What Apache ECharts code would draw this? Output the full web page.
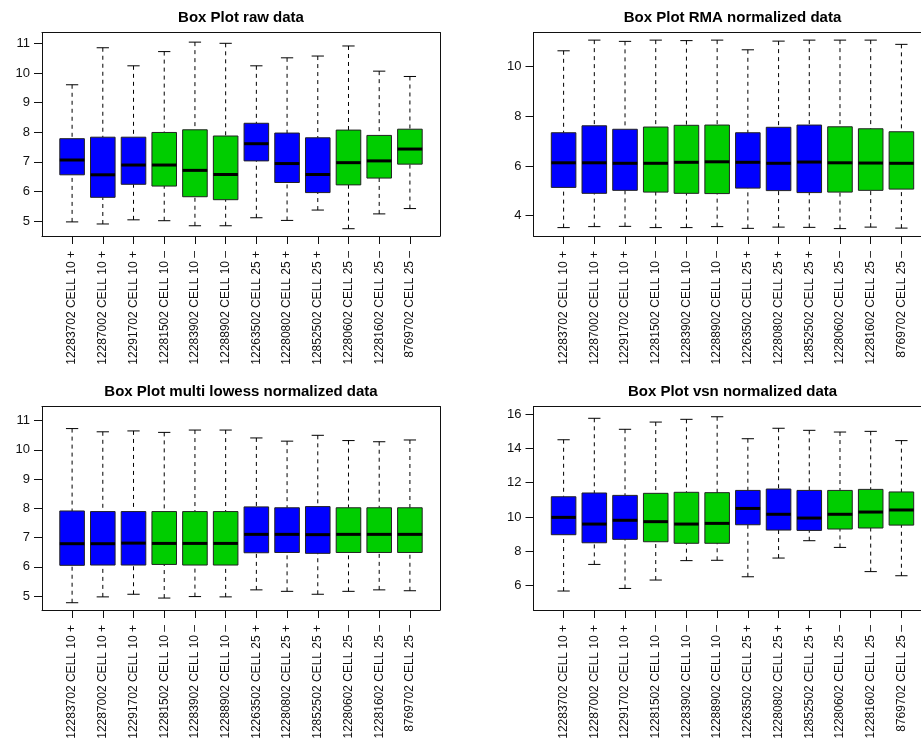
<!DOCTYPE html>
<html>
<head>
<meta charset="utf-8">
<script src="https://cdn.jsdelivr.net/npm/echarts@6/dist/echarts.min.js"></script>
<style>
  html, body { margin: 0; padding: 0; background: #ffffff; }
  #chart { width: 921px; height: 747px; }
</style>
</head>
<body>
<div id="chart"></div>
<script>
// Arrays (samples), in plotting order
const samples = [
  '12283702 CELL 10 +', '12287002 CELL 10 +', '12291702 CELL 10 +',
  '12281502 CELL 10 –', '12283902 CELL 10 –', '12288902 CELL 10 –',
  '12263502 CELL 25 +', '12280802 CELL 25 +', '12852502 CELL 25 +',
  '12280602 CELL 25 –', '12281602 CELL 25 –', '8769702 CELL 25 –'
];

// Five-number summaries per array: [lower whisker, Q1, median, Q3, upper whisker]
const rawStats = [
  [4.97, 6.56, 7.06, 7.78, 9.60],
  [4.90, 5.80, 6.56, 7.83, 10.85],
  [5.04, 6.24, 6.89, 7.83, 10.24],
  [5.01, 6.18, 6.89, 7.99, 10.72],
  [4.84, 5.82, 6.71, 8.08, 11.04],
  [4.84, 5.72, 6.57, 7.87, 11.00],
  [5.11, 7.03, 7.61, 8.30, 10.24],
  [5.02, 6.30, 6.94, 7.97, 10.51],
  [5.37, 5.96, 6.57, 7.81, 10.57],
  [4.74, 6.22, 6.97, 8.07, 10.91],
  [5.24, 6.45, 7.03, 7.89, 10.06],
  [5.42, 6.92, 7.43, 8.10, 9.88]
];
const rmaStats = [
  [3.52, 5.14, 6.13, 7.34, 10.64],
  [3.56, 4.90, 6.13, 7.62, 11.07],
  [3.57, 5.02, 6.11, 7.48, 11.02],
  [3.52, 4.95, 6.11, 7.57, 11.07],
  [3.52, 4.90, 6.15, 7.64, 11.05],
  [3.56, 4.89, 6.17, 7.65, 11.07],
  [3.49, 5.11, 6.15, 7.34, 10.68],
  [3.54, 5.01, 6.11, 7.56, 11.03],
  [3.53, 4.93, 6.16, 7.65, 11.07],
  [3.48, 4.95, 6.13, 7.58, 11.07],
  [3.54, 5.02, 6.12, 7.50, 11.07],
  [3.50, 5.07, 6.11, 7.38, 10.90]
];
const lowessStats = [
  [4.77, 6.05, 6.79, 7.91, 10.73],
  [4.97, 6.06, 6.79, 7.89, 10.62],
  [5.06, 6.06, 6.81, 7.89, 10.65],
  [4.93, 6.08, 6.80, 7.89, 10.60],
  [4.98, 6.06, 6.80, 7.89, 10.68],
  [4.97, 6.06, 6.80, 7.89, 10.68],
  [5.21, 6.48, 7.11, 8.05, 10.41],
  [5.16, 6.49, 7.11, 8.02, 10.30],
  [5.06, 6.46, 7.10, 8.06, 10.50],
  [5.16, 6.49, 7.11, 8.02, 10.32],
  [5.21, 6.49, 7.11, 8.02, 10.28],
  [5.18, 6.49, 7.11, 8.02, 10.34]
];
const vsnStats = [
  [5.69, 8.97, 9.98, 11.18, 14.50],
  [7.24, 8.50, 9.59, 11.40, 15.75],
  [5.84, 8.70, 9.81, 11.26, 15.11],
  [6.33, 8.56, 9.73, 11.38, 15.53],
  [7.46, 8.47, 9.59, 11.44, 15.69],
  [7.48, 8.47, 9.63, 11.42, 15.84],
  [6.52, 9.55, 10.50, 11.55, 14.56],
  [7.61, 9.24, 10.16, 11.63, 15.17],
  [8.62, 9.22, 9.94, 11.55, 15.05],
  [8.23, 9.30, 10.16, 11.55, 14.95],
  [6.82, 9.36, 10.29, 11.61, 14.99],
  [6.58, 9.53, 10.41, 11.46, 14.45]
];

// Y tick values
const rawTicks = [5, 6, 7, 8, 9, 10, 11];
const rmaTicks = [4, 6, 8, 10];
const lowessTicks = [5, 6, 7, 8, 9, 10, 11];
const vsnTicks = [6, 8, 10, 12, 14, 16];

// Layout
const PAGE_W = 921;
const FONT = '"Liberation Sans", Arial, Helvetica, sans-serif';
const FRAME_W = 398;
const FRAME_H = 203.5;
const UNIT = FRAME_W / 12.96;           // x range 0.02 .. 12.98 in box units
const INSET = 0.48 * UNIT;
const INK = '#111';
const COLOR_PLUS = '#0000FF';
const COLOR_MINUS = '#00CD00';

const panels = [
  { title: 'Box Plot raw data', stats: rawStats, ticks: rawTicks,
    yMin: 4.494, yMax: 11.365, left: 42, top: 32.5, titleY: 18 },
  { title: 'Box Plot RMA normalized data', stats: rmaStats, ticks: rmaTicks,
    yMin: 3.182, yMax: 11.377, left: 533.5, top: 32.5, titleY: 18 },
  { title: 'Box Plot multi lowess normalized data', stats: lowessStats, ticks: lowessTicks,
    yMin: 4.521, yMax: 11.486, left: 42, top: 406.5, titleY: 391.7 },
  { title: 'Box Plot vsn normalized data', stats: vsnStats, ticks: vsnTicks,
    yMin: 4.585, yMax: 16.437, left: 533.5, top: 406.5, titleY: 391.7 }
];

function drawBox(params, api) {
  const k = api.value(0);
  const lo = api.value(1), q1 = api.value(2), med = api.value(3), q3 = api.value(4), hi = api.value(5);
  const cx = api.coord([k, med])[0];
  const y = v => api.coord([k, v])[1];
  const band = api.size([1, 0])[0];
  const half = band * 0.4;     // box width 0.8 of a slot
  const cap = half * 0.5;      // staples half the box width
  const fill = samples[k].endsWith('+') ? COLOR_PLUS : COLOR_MINUS;
  const dashed = { stroke: '#000', lineWidth: 1, lineDash: [4, 4] };
  const solid = { stroke: '#000', lineWidth: 1 };
  return {
    type: 'group',
    children: [
      { type: 'line', shape: { x1: cx, y1: y(hi), x2: cx, y2: y(q3) }, style: dashed },
      { type: 'line', shape: { x1: cx, y1: y(lo), x2: cx, y2: y(q1) }, style: dashed },
      { type: 'line', shape: { x1: cx - cap, y1: y(hi), x2: cx + cap, y2: y(hi) }, style: solid },
      { type: 'line', shape: { x1: cx - cap, y1: y(lo), x2: cx + cap, y2: y(lo) }, style: solid },
      { type: 'rect', shape: { x: cx - half, y: y(q3), width: 2 * half, height: y(q1) - y(q3) },
        style: { fill: fill, stroke: '#222', lineWidth: 1 } },
      { type: 'line', shape: { x1: cx - half, y1: y(med), x2: cx + half, y2: y(med) },
        style: { stroke: '#000', lineWidth: 3 } }
    ]
  };
}

const grid = [], xAxis = [], yAxis = [], series = [], graphic = [];
const frameLine = { show: true, onZero: false, lineStyle: { color: INK, width: 1 } };
const noLine = { show: false };
const bare = { axisTick: { show: false }, axisLabel: { show: false }, splitLine: { show: false } };

panels.forEach((p, i) => {
  const frameIdx = 2 * i, dataIdx = 2 * i + 1;
  const ax = 3 * i;   // axis index base: frame (2 per direction) + data
  // the right-hand panels run past the page edge, so their right side is not drawn
  const rightInside = p.left + FRAME_W < PAGE_W;

  // outer frame: its axis lines form the box, the left one carries ticks
  grid.push({ left: p.left, top: p.top, width: FRAME_W, height: FRAME_H, outerBoundsMode: 'none' });
  // inner plotting region for the boxes
  grid.push({ left: p.left + INSET, top: p.top, width: 12 * UNIT, height: FRAME_H, outerBoundsMode: 'none' });

  xAxis.push(Object.assign({ gridIndex: frameIdx, type: 'value', min: 0, max: 1,
    position: 'bottom', axisLine: frameLine }, bare));
  xAxis.push(Object.assign({ gridIndex: frameIdx, type: 'value', min: 0, max: 1,
    position: 'top', axisLine: frameLine }, bare));
  xAxis.push({
    gridIndex: dataIdx, type: 'category', data: samples,
    axisLine: { show: false },
    axisTick: { show: true, alignWithLabel: true, interval: 0, length: 8,
      lineStyle: { color: INK, width: 1 } },
    axisLabel: { interval: 0, rotate: 90, margin: 15, fontSize: 12,
      fontFamily: FONT, color: INK },
    splitLine: { show: false }
  });

  yAxis.push({
    gridIndex: frameIdx, type: 'value', min: p.yMin, max: p.yMax, position: 'left',
    axisLine: frameLine,
    splitLine: { show: false },
    axisTick: { show: true, length: 8, customValues: p.ticks,
      lineStyle: { color: INK, width: 1 } },
    axisLabel: { customValues: p.ticks, margin: 12, fontSize: 13,
      fontFamily: FONT, color: INK }
  });
  yAxis.push(Object.assign({ gridIndex: frameIdx, type: 'value', min: p.yMin, max: p.yMax,
    position: 'right', axisLine: rightInside ? frameLine : noLine }, bare));
  yAxis.push({ gridIndex: dataIdx, type: 'value', min: p.yMin, max: p.yMax, show: false });

  series.push({
    type: 'custom',
    xAxisIndex: ax + 2, yAxisIndex: ax + 2,
    data: p.stats.map((s, k) => [k].concat(s)),
    encode: { x: 0, y: [1, 2, 3, 4, 5] },
    renderItem: drawBox,
    silent: true
  });

  graphic.push({
    type: 'text', x: p.left + FRAME_W / 2, y: p.titleY,
    style: { text: p.title, align: 'center', verticalAlign: 'middle',
      fontSize: 15, fontWeight: 'bold', fontFamily: FONT, fill: '#000' }
  });
});

const chart = echarts.init(document.getElementById('chart'), null, { renderer: 'canvas' });
chart.setOption({
  animation: false,
  backgroundColor: '#ffffff',
  grid, xAxis, yAxis, series, graphic
});
</script>
</body>
</html>
